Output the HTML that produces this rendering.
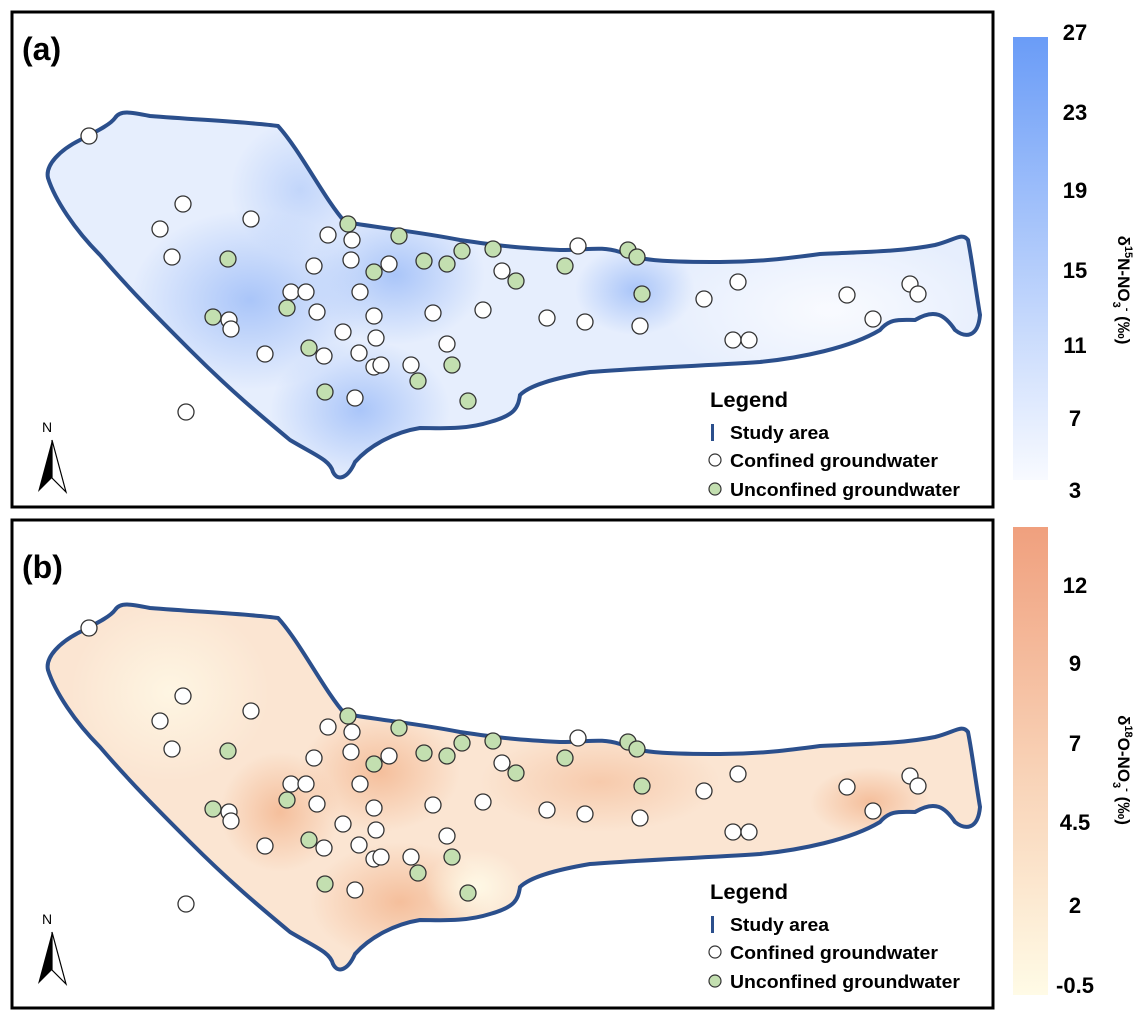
<!DOCTYPE html>
<html><head><meta charset="utf-8"><style>
body{margin:0;background:#fff;width:1146px;height:1019px;overflow:hidden;font-family:"Liberation Sans",Arial,sans-serif}
</style></head><body>
<svg width="1146" height="1019" viewBox="0 0 1146 1019" xmlns="http://www.w3.org/2000/svg" font-family="Liberation Sans, Arial, sans-serif">
<defs>
<path id="shape" d="M48,178 C45,165 60,150 80,140 C95,132 110,125 115,118 C120,110 130,112 150,116 C200,120 250,122 278,126 C300,150 325,200 345,222 C380,228 420,232 460,240 C500,246 520,248 560,250 C590,250 600,246 620,252 C640,262 680,262 720,262 C760,262 790,258 820,254 C860,252 900,252 935,245 C955,240 962,232 968,240 C972,260 975,285 980,315 C978,338 965,338 955,330 C945,315 935,308 915,320 C900,320 890,318 880,330 C850,348 800,358 760,362 C700,366 640,368 590,372 C555,378 530,385 520,395 C518,408 515,415 490,422 C465,430 440,428 420,428 C395,432 370,445 355,462 C348,478 338,482 333,472 C330,460 315,455 290,440 C260,415 230,390 190,350 C160,320 130,290 100,255 C75,230 55,200 48,178 Z"/>
<clipPath id="cp"><use href="#shape"/></clipPath>
<radialGradient id="ba"><stop offset="0" stop-color="#9fbef8" stop-opacity=".85"/><stop offset="1" stop-color="#9fbef8" stop-opacity="0"/></radialGradient>
<radialGradient id="wa"><stop offset="0" stop-color="#fbfcff" stop-opacity=".9"/><stop offset="1" stop-color="#fbfcff" stop-opacity="0"/></radialGradient>
<radialGradient id="oa"><stop offset="0" stop-color="#f2ae84" stop-opacity=".7"/><stop offset="1" stop-color="#f2ae84" stop-opacity="0"/></radialGradient>
<radialGradient id="wo"><stop offset="0" stop-color="#fffbe8" stop-opacity=".95"/><stop offset="1" stop-color="#fffbe8" stop-opacity="0"/></radialGradient>
<linearGradient id="cbb" x1="0" y1="0" x2="0" y2="1"><stop offset="0" stop-color="#6a9cf7"/><stop offset="1" stop-color="#f8faff"/></linearGradient>
<linearGradient id="cbo" x1="0" y1="0" x2="0" y2="1"><stop offset="0" stop-color="#f0a07e"/><stop offset=".5" stop-color="#f8d0b4"/><stop offset="1" stop-color="#fffbe6"/></linearGradient>
<g id="dots" stroke="#333" stroke-width="1.3">
<g fill="#fff">
<circle cx="89" cy="136" r="8"/><circle cx="183" cy="204" r="8"/><circle cx="160" cy="229" r="8"/><circle cx="172" cy="257" r="8"/><circle cx="251" cy="219" r="8"/><circle cx="328" cy="235" r="8"/><circle cx="352" cy="240" r="8"/><circle cx="351" cy="260" r="8"/><circle cx="314" cy="266" r="8"/><circle cx="389" cy="264" r="8"/><circle cx="291" cy="292" r="8"/><circle cx="306" cy="292" r="8"/><circle cx="317" cy="312" r="8"/><circle cx="360" cy="292" r="8"/><circle cx="374" cy="316" r="8"/><circle cx="229" cy="320" r="8"/><circle cx="231" cy="329" r="8"/><circle cx="265" cy="354" r="8"/><circle cx="343" cy="332" r="8"/><circle cx="376" cy="338" r="8"/><circle cx="324" cy="356" r="8"/><circle cx="359" cy="353" r="8"/><circle cx="374" cy="367" r="8"/><circle cx="381" cy="365" r="8"/><circle cx="411" cy="365" r="8"/><circle cx="447" cy="344" r="8"/><circle cx="433" cy="313" r="8"/><circle cx="483" cy="310" r="8"/><circle cx="547" cy="318" r="8"/><circle cx="585" cy="322" r="8"/><circle cx="640" cy="326" r="8"/><circle cx="704" cy="299" r="8"/><circle cx="738" cy="282" r="8"/><circle cx="733" cy="340" r="8"/><circle cx="749" cy="340" r="8"/><circle cx="847" cy="295" r="8"/><circle cx="873" cy="319" r="8"/><circle cx="910" cy="284" r="8"/><circle cx="918" cy="294" r="8"/><circle cx="578" cy="246" r="8"/><circle cx="502" cy="271" r="8"/><circle cx="355" cy="398" r="8"/><circle cx="186" cy="412" r="8"/>
</g>
<g fill="#c3dfb0">
<circle cx="348" cy="224" r="8"/><circle cx="399" cy="236" r="8"/><circle cx="228" cy="259" r="8"/><circle cx="374" cy="272" r="8"/><circle cx="424" cy="261" r="8"/><circle cx="447" cy="264" r="8"/><circle cx="462" cy="251" r="8"/><circle cx="493" cy="249" r="8"/><circle cx="516" cy="281" r="8"/><circle cx="565" cy="266" r="8"/><circle cx="628" cy="250" r="8"/><circle cx="637" cy="257" r="8"/><circle cx="642" cy="294" r="8"/><circle cx="213" cy="317" r="8"/><circle cx="287" cy="308" r="8"/><circle cx="309" cy="348" r="8"/><circle cx="325" cy="392" r="8"/><circle cx="418" cy="381" r="8"/><circle cx="452" cy="365" r="8"/><circle cx="468" cy="401" r="8"/>
</g></g>
<g id="north"><text x="42" y="432" font-size="14">N</text><path d="M52,440 L38,492 L52,478 Z" fill="#000"/><path d="M52,440 L66,492 L52,478 Z" fill="#fff" stroke="#000" stroke-width="1.2"/></g>
<g id="legend" font-weight="bold" font-size="18">
<text x="710" y="407" font-size="21" textLength="78" lengthAdjust="spacingAndGlyphs">Legend</text>
<rect x="711" y="424" width="3" height="17" fill="#2b4f8c"/><text x="730" y="439" textLength="99" lengthAdjust="spacingAndGlyphs">Study area</text>
<circle cx="715" cy="460" r="6" fill="#fff" stroke="#333" stroke-width="1.2"/><text x="730" y="467" textLength="208" lengthAdjust="spacingAndGlyphs">Confined groundwater</text>
<circle cx="715" cy="489" r="6" fill="#c3dfb0" stroke="#333" stroke-width="1.2"/><text x="730" y="496" textLength="230" lengthAdjust="spacingAndGlyphs">Unconfined groundwater</text>
</g>
</defs>
<!-- panel a -->
<rect x="12" y="12" width="981" height="495" fill="#fff" stroke="#000" stroke-width="3"/>
<use href="#shape" fill="#e6eefd"/>
<g clip-path="url(#cp)">
<ellipse cx="395" cy="275" rx="90" ry="70" fill="url(#ba)"/>
<ellipse cx="360" cy="410" rx="90" ry="70" fill="url(#ba)"/>
<ellipse cx="635" cy="290" rx="60" ry="45" fill="url(#ba)"/>
<ellipse cx="250" cy="300" rx="120" ry="90" fill="url(#ba)"/>
<ellipse cx="300" cy="190" rx="70" ry="70" fill="url(#ba)" opacity=".6"/>
<ellipse cx="830" cy="310" rx="170" ry="80" fill="url(#wa)"/>
</g>
<use href="#shape" fill="none" stroke="#2b4f8c" stroke-width="4"/>
<use href="#dots"/>
<use href="#north"/>
<use href="#legend"/>
<text x="22" y="60" font-size="32" font-weight="bold">(a)</text>
<rect x="1013" y="37" width="35" height="443" fill="url(#cbb)"/>
<g font-size="22" font-weight="bold" text-anchor="middle">
<text x="1075" y="40">27</text><text x="1075" y="120">23</text><text x="1075" y="198">19</text><text x="1075" y="278">15</text><text x="1075" y="353">11</text><text x="1075" y="426">7</text><text x="1075" y="498">3</text>
</g>
<text transform="translate(1118,290) rotate(90)" font-size="17" font-weight="bold" text-anchor="middle">δ<tspan font-size="11" dy="-7">15</tspan><tspan dy="7">N-NO</tspan><tspan font-size="11" dy="5">3</tspan><tspan font-size="11" dy="-11">-</tspan><tspan dy="6"> (‰)</tspan></text>
<!-- panel b -->
<rect x="12" y="520" width="981" height="488" fill="#fff" stroke="#000" stroke-width="3"/>
<g transform="translate(0,492)">
<use href="#shape" fill="#fbe5d2"/>
<g clip-path="url(#cp)">
<ellipse cx="380" cy="280" rx="80" ry="60" fill="url(#oa)"/>
<ellipse cx="400" cy="410" rx="90" ry="60" fill="url(#oa)"/>
<ellipse cx="280" cy="320" rx="60" ry="60" fill="url(#oa)"/>
<ellipse cx="870" cy="310" rx="60" ry="35" fill="url(#oa)"/>
<ellipse cx="600" cy="290" rx="120" ry="50" fill="url(#oa)" opacity=".7"/>
<ellipse cx="170" cy="200" rx="100" ry="90" fill="url(#wo)" opacity=".8"/>
<ellipse cx="475" cy="395" rx="50" ry="38" fill="url(#wo)"/>
</g>
<use href="#shape" fill="none" stroke="#2b4f8c" stroke-width="4"/>
<use href="#dots"/>
<use href="#north"/>
<use href="#legend"/>
</g>
<rect x="12" y="520" width="981" height="488" fill="none" stroke="#000" stroke-width="3"/>
<text x="22" y="578" font-size="32" font-weight="bold">(b)</text>
<rect x="1013" y="527" width="35" height="468" fill="url(#cbo)"/>
<g font-size="22" font-weight="bold" text-anchor="middle">
<text x="1075" y="593">12</text><text x="1075" y="671">9</text><text x="1075" y="751">7</text><text x="1075" y="830">4.5</text><text x="1075" y="913">2</text><text x="1075" y="993">-0.5</text>
</g>
<text transform="translate(1118,770) rotate(90)" font-size="17" font-weight="bold" text-anchor="middle">δ<tspan font-size="11" dy="-7">18</tspan><tspan dy="7">O-NO</tspan><tspan font-size="11" dy="5">3</tspan><tspan font-size="11" dy="-11">-</tspan><tspan dy="6"> (‰)</tspan></text>
</svg>
</body></html>
